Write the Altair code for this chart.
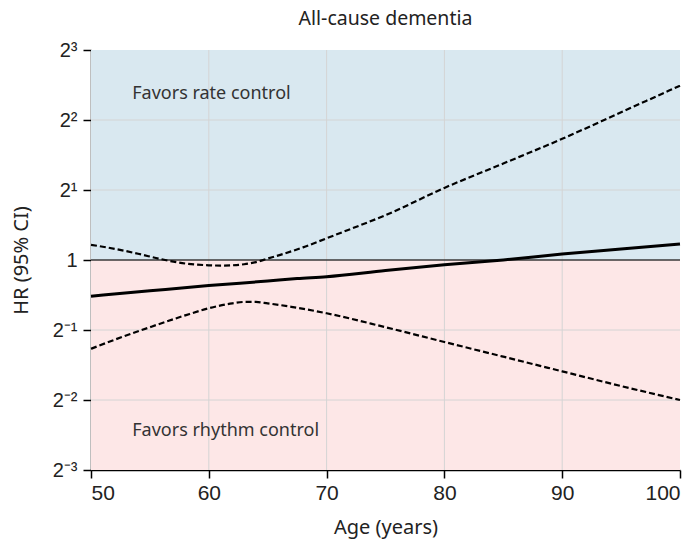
import altair as alt
import pandas as pd

# Hazard ratio of dementia (rhythm vs rate control) by age, with 95% CI
est_age = [50, 55, 60, 65, 67.5, 70, 75, 80, 85, 90, 95, 100]
est_hr = [0.699, 0.737, 0.776, 0.812, 0.832, 0.848, 0.901, 0.953, 1.0, 1.061, 1.115, 1.171]

upper_age = [50, 52, 54, 56, 58, 60, 61, 62, 63, 64, 65, 66, 68, 70, 72, 75, 80, 85, 90, 95, 100]
upper_hr = [1.162, 1.117, 1.064, 1.007, 0.966, 0.949, 0.946, 0.949, 0.959, 0.979, 1.014, 1.05,
            1.133, 1.24, 1.357, 1.558, 2.042, 2.60, 3.32, 4.32, 5.62]

lower_age = [50, 52, 55, 58, 60, 62, 63, 64, 65, 67, 70, 75, 80, 85, 90, 95, 100]
lower_hr = [0.415, 0.454, 0.514, 0.578, 0.620, 0.651, 0.660, 0.660, 0.651, 0.629, 0.590,
            0.514, 0.444, 0.384, 0.332, 0.287, 0.25]

x_ticks = [50, 60, 70, 80, 90, 100]
y_ticks = [0.125, 0.25, 0.5, 1, 2, 4, 8]
y_tick_labels = ["2\u207b\u00b3", "2\u207b\u00b2", "2\u207b\u00b9", "1", "2\u00b9", "2\u00b2", "2\u00b3"]

x_grid = [60, 70, 80, 90]
y_grid = [0.25, 0.5, 2, 4]

band_lo = [1, 0.125]
band_hi = [8, 1]
band_fill = ["#d9e8f0", "#fde7e7"]

notes = ["Favors rate control", "Favors rhythm control"]
note_age = [53.5, 53.5]
note_hr = [5.2, 0.184]

W, H = 589, 420
LABEL_FONT = "Liberation Sans, Arial, sans-serif"
TEXT_FONT = "Noto Sans"

# label expression: map each tick value to its power-of-two label
label_expr = ""
for v, lab in zip(y_ticks, y_tick_labels):
    label_expr += f"abs(datum.value - {v}) < 1e-6 ? '{lab}' : "
label_expr += "''"

x_scale = alt.Scale(domain=[50, 100], nice=False, zero=False)
y_scale = alt.Scale(type="log", base=2, domain=[0.125, 8], nice=False)

x_axis = alt.Axis(values=x_ticks, title="Age (years)", labelPadding=4, labelFontSize=21,
                  titleY=47, titleBaseline="top")
y_axis = alt.Axis(values=y_ticks, labelExpr=label_expr, title="HR (95% CI)",
                  labelPadding=6, labelFontSize=20, titleX=-70, titleY=H / 2, titleAngle=-90,
                  titleBaseline="middle", titleAlign="center")

curves = pd.concat([
    pd.DataFrame({"age": est_age, "hr": est_hr, "series": "HR"}),
    pd.DataFrame({"age": upper_age, "hr": upper_hr, "series": "upper"}),
    pd.DataFrame({"age": lower_age, "hr": lower_hr, "series": "lower"}),
])

bands = alt.Chart(pd.DataFrame({"lo": band_lo, "hi": band_hi, "fill": band_fill})).mark_rect().encode(
    x=alt.datum(50, scale=x_scale, axis=x_axis),
    x2=alt.datum(100),
    y=alt.Y("lo:Q", scale=y_scale, axis=y_axis),
    y2="hi:Q",
    color=alt.Color("fill:N", scale=None),
)

vgrid = alt.Chart(pd.DataFrame({"age": x_grid})).mark_rule(color="#d4d4d4", strokeWidth=1).encode(
    x=alt.X("age:Q", scale=x_scale),
    y=alt.value(0), y2=alt.value(H),
)

hgrid = alt.Chart(pd.DataFrame({"hr": y_grid})).mark_rule(color="#d4d4d4", strokeWidth=1).encode(
    y=alt.Y("hr:Q", scale=y_scale),
    x=alt.value(0), x2=alt.value(W),
)

ref = alt.Chart(pd.DataFrame({"hr": [1]})).mark_rule(color="#3a3a3a", strokeWidth=1.6).encode(
    y=alt.Y("hr:Q", scale=y_scale),
    x=alt.value(0), x2=alt.value(W),
)

ci = alt.Chart(curves).transform_filter(alt.datum.series != "HR").mark_line(
    color="black", strokeWidth=2.2, strokeDash=[6, 3], interpolate="monotone"
).encode(
    x=alt.X("age:Q", scale=x_scale),
    y=alt.Y("hr:Q", scale=y_scale),
    detail="series:N",
)

est = alt.Chart(curves).transform_filter(alt.datum.series == "HR").mark_line(
    color="black", strokeWidth=3, interpolate="monotone"
).encode(
    x=alt.X("age:Q", scale=x_scale),
    y=alt.Y("hr:Q", scale=y_scale),
)

labels = alt.Chart(pd.DataFrame({"note": notes, "age": note_age, "hr": note_hr})).mark_text(
    align="left", baseline="middle", font=TEXT_FONT, fontSize=18, color="#333333"
).encode(
    x=alt.X("age:Q", scale=x_scale),
    y=alt.Y("hr:Q", scale=y_scale),
    text="note:N",
)

chart = alt.layer(bands, vgrid, hgrid, ref, ci, est, labels).properties(
    width=W, height=H,
    autosize=alt.AutoSizeParams(type="none"),
    padding={"left": 91, "top": 50, "right": 19, "bottom": 75},
    title=alt.TitleParams("All-cause dementia", font=TEXT_FONT, fontSize=19.5,
                          fontWeight="normal", color="#222222", offset=11),
).configure_view(stroke=None).configure_axis(
    grid=False,
    domainColor="black", domainWidth=1.5,
    tickColor="black", tickWidth=1.5, tickSize=8,
    labelFont=LABEL_FONT, labelColor="#222222",
    titleFont=TEXT_FONT, titleFontSize=20, titleFontWeight="normal", titleColor="#222222",
)

chart.save("out.html", embed_options={"renderer": "svg", "actions": False})
